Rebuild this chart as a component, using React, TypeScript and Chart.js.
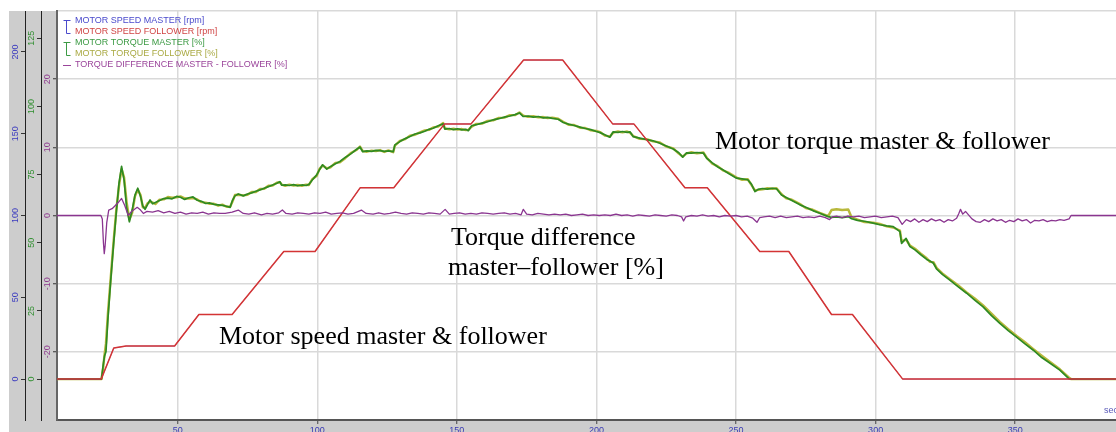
import React, { useEffect, useRef } from 'react';
import { Chart, registerables } from 'chart.js';

Chart.register(...registerables);

// ---------- data (time in seconds) ----------
const X_MIN = 6.77;
const X_MAX = 386.1;
const X_TICKS = [50, 100, 150, 200, 250, 300, 350];
const SPEED_TICKS = [0, 50, 100, 150, 200];
const TORQUE_TICKS = [0, 25, 50, 75, 100, 125];
const DIFF_TICKS = [-30, -20, -10, 0, 10, 20, 30];

const SPEED_TIME = [6, 22.6, 27.1, 31.5, 48.9, 57.6, 69.5, 88, 99.2, 115.4, 127.4, 145.6, 155.1, 173.9, 187.9, 205.8, 213.4, 231.7, 239.7, 258.5, 268.9, 284.2, 291.7, 309.7, 387];
const SPEED_MASTER = [0, 0, 19, 20.2, 20.2, 39.5, 39.5, 78, 78, 117, 117, 156, 156, 195, 195, 156, 156, 117, 117, 78, 78, 39.5, 39.5, 0, 0];
const SPEED_FOLLOWER = [0, 0, 19, 20.2, 20.2, 39.5, 39.5, 78, 78, 117, 117, 156, 156, 195, 195, 156, 156, 117, 117, 78, 78, 39.5, 39.5, 0, 0];

const TORQUE_TIME = [
  6, 22.7, 23.3, 23.8, 24.3, 25, 26, 27, 28, 29,
  29.9, 30.8, 31.7, 32.7, 33.7, 34.7, 35.7, 36.7, 37.5, 38.3,
  39.2, 40.1, 41, 42, 43.5, 45, 46.5, 48, 49.6, 51,
  52.5, 54, 55.5, 57, 58.5, 60, 61.5, 63, 64.5, 66,
  67.5, 68.8, 69.6, 70.5, 71.7, 73.5, 75, 76.5, 78, 79.5,
  81, 82.5, 84, 85.5, 86.6, 87.3, 88.5, 90, 91.5, 93,
  94.5, 96, 97, 98.2, 99.8, 100.8, 101.9, 103.4, 104.8, 106.5,
  108.1, 110, 112, 114, 115.3, 116.3, 117.8, 119.5, 121, 122.5,
  124, 125.5, 127.2, 127.8, 129.6, 131.5, 133.2, 135, 136.8, 138.5,
  140, 141.5, 143.3, 145.1, 145.7, 147.3, 148.8, 150.3, 151.8, 153.2,
  154.1, 155.3, 157, 159, 161, 163, 165, 167, 169, 170.8,
  172.4, 173.8, 175.5, 177.4, 179.2, 181, 182.5, 184.2, 186.3, 188.1,
  190, 192, 194.1, 196, 198, 200, 201.3, 203, 204.8, 206,
  207.7, 209.3, 211, 212, 213.2, 215.5, 218, 220.3, 222.7, 225,
  227.5, 229.5, 230.9, 232.3, 234, 236, 238.3, 239.5, 241.5, 243.5,
  245.4, 247.5, 250.2, 252.2, 254.2, 255.5, 256.8, 257.9, 259.5, 261.2,
  263, 264.5, 266.3, 268, 270, 272.9, 275, 277.5, 280, 283,
  284.2, 286, 288, 290.2, 291.4, 293.5, 296, 299.1, 301.5, 304,
  306.3, 308.7, 309.3, 310.9, 312.3, 314.1, 316.2, 318.3, 319.5, 320.7,
  321.9, 324, 326.6, 329.5, 332.6, 335.5, 338.5, 341.5, 344.5, 347.5,
  350.5, 353.5, 356.5, 359.5, 362.5, 366, 369.3, 370, 387,
];
const TORQUE_MASTER = [
  0, 0, 5, 8.5, 10, 22, 36, 49, 61, 72,
  78, 73, 63, 57.7, 62, 67.5, 70, 67, 63.5, 62.3,
  64, 65.7, 64.3, 64.8, 65.5, 66.2, 66.4, 66.1, 67, 66.7,
  65.9, 66.5, 66.8, 65.6, 65.2, 64.4, 64.6, 64.1, 63.9, 63.7,
  63.4, 63, 65.5, 67.2, 67.9, 67.2, 67.9, 68.3, 68.9, 69.4,
  70, 70.6, 71.2, 71.8, 72.4, 71.1, 71.2, 71, 71.3, 70.9,
  71.2, 71, 71.4, 73, 74.9, 76.8, 78.6, 77, 78, 79,
  79.8, 81.3, 82.6, 84.2, 85.1, 83.4, 83.7, 83.5, 83.9, 83.8,
  83.5, 83.7, 83.4, 85.9, 87.1, 88.2, 89, 89.9, 90.3, 90.9,
  91.6, 92, 92.9, 93.6, 91.7, 91.9, 91.5, 91.8, 91.4, 91.6,
  91.1, 92.9, 93.3, 93.9, 94.4, 95.1, 95.5, 96.1, 96.5, 97,
  97.6, 96.3, 96.5, 96.1, 96.3, 95.8, 96, 95.6, 95.3, 94.1,
  93.5, 93, 92.4, 91.9, 91.5, 90.8, 90.4, 89.6, 88.7, 90.7,
  90.5, 90.8, 90.5, 90.7, 88.9, 88.4, 87.8, 87.4, 86.5, 85.5,
  84.4, 83, 81.4, 83, 82.9, 83.1, 82.9, 81, 79.3, 77.8,
  76.7, 75.3, 73.7, 73.4, 73.1, 71.5, 68.8, 69.6, 69.9, 69.7,
  70, 69.8, 67.5, 66.6, 65.5, 63.9, 63, 61.8, 60.8, 59.6,
  59.3, 59.5, 59.2, 59.6, 58.8, 58.2, 57.9, 57.2, 56.6, 56.2,
  55.9, 54.1, 49.8, 51.6, 48.6, 47.4, 45.6, 43.9, 43.3, 42.5,
  40.3, 38.3, 36.3, 33.9, 31.5, 29, 26.5, 23.3, 20.4, 17.8,
  15.4, 12.9, 10.6, 7.9, 5.8, 3.3, 0.1, 0, 0,
];
const TORQUE_FOLLOWER = [
  0, 0, 4, 9, 13, 24, 37, 50, 62, 71,
  77, 74, 65, 58.5, 61, 67, 69.5, 67.5, 63, 62.8,
  64.5, 65, 64.8, 64.2, 65.8, 65.9, 66.8, 66.5, 66.7, 67,
  66.3, 66.2, 66.4, 65.9, 64.9, 64.7, 64.3, 64.3, 63.6, 64,
  63.2, 63.2, 65, 67.5, 67.6, 67.4, 67.6, 68.6, 68.6, 69.7,
  69.8, 70.9, 71, 72, 72.2, 71.3, 70.9, 71.3, 71, 71.2,
  70.9, 71.3, 71.2, 73.3, 74.6, 77.1, 78.3, 77.3, 77.7, 79.3,
  79.5, 81, 82.9, 84, 85.3, 83.6, 83.4, 83.8, 83.6, 84,
  83.3, 83.9, 83.2, 85.6, 87.4, 88, 89.3, 89.6, 90.5, 91.2,
  91.4, 92.3, 92.6, 93.9, 92, 91.6, 91.8, 91.5, 91.7, 91.3,
  91.4, 92.6, 93.6, 93.7, 94.7, 94.9, 95.8, 95.9, 96.8, 96.8,
  97.8, 96.6, 96.2, 96.4, 96, 96.1, 95.7, 95.9, 95.5, 94.4,
  93.3, 93.2, 92.2, 92.1, 91.2, 91, 90.6, 89.3, 89, 90.4,
  90.8, 90.5, 90.8, 90.4, 89.1, 88.1, 88, 87.2, 86.8, 85.3,
  84.6, 82.7, 81.6, 82.8, 83.2, 82.8, 83.1, 81.2, 79, 78,
  76.5, 75.6, 73.9, 73.1, 73.3, 71.2, 69.1, 69.4, 69.6, 70,
  69.8, 70, 67.8, 66.3, 65.8, 64.2, 62.7, 62.1, 61, 59.8,
  62, 62.3, 62, 62.2, 59.3, 58.5, 57.6, 57.4, 56.9, 56,
  55.6, 54.5, 50.5, 51.2, 49, 47.8, 46, 44.3, 43, 42.9,
  40.7, 38.7, 36.6, 34.4, 31.8, 29.6, 27, 24, 21, 18.3,
  15.8, 13.5, 11, 8.6, 6.3, 3.6, 0.5, 0, 0,
];

const DIFF_TIME = [
  6, 22.5, 23, 23.4, 23.7, 24, 24.6, 25.3, 26.5, 27.5,
  28.7, 29.9, 31, 32.3, 33.5, 35.5, 36.7, 37.7, 39, 41,
  43, 45, 47, 49, 51, 53, 55, 57, 59, 61,
  63, 65, 67, 69.5, 71.7, 73.5, 75.5, 77.5, 80, 82,
  84, 86.2, 87.5, 88.8, 91, 93, 95, 97, 99, 101,
  103, 105, 107, 109, 111, 113, 115.8, 117.5, 120, 122,
  124, 126, 128, 130, 132, 134, 136, 138, 140, 142,
  144, 145.8, 147.3, 149, 151, 153, 155, 157, 159, 161,
  163, 165, 167, 169, 171, 173, 173.8, 175, 177, 179,
  181, 183, 185, 187, 189, 191, 193, 195, 197, 199,
  201, 203, 205, 207, 209, 211, 213, 215, 217, 219,
  221, 223, 225, 227, 229, 230.5, 231.2, 232, 234, 236,
  238, 240, 242, 244, 246, 248, 250, 252, 254, 256,
  257.5, 258.5, 260, 262, 264, 266, 268, 270, 272, 274,
  276, 278, 280, 282, 283.5, 284.5, 286, 288, 290, 292,
  294, 296, 298, 300, 302, 304, 306, 308, 309.5, 311,
  312.5, 314, 315.5, 317, 318.5, 320, 321.5, 323, 324.5, 326,
  327.5, 329, 329.8, 330.4, 331.2, 332.2, 334.5, 336, 337.5, 339,
  340.5, 342, 343.5, 345, 346.5, 348, 349.5, 351, 352.5, 354,
  355.5, 357, 358.5, 360, 361.5, 363, 364.5, 366, 367.5, 369.3,
  370, 387,
];
const DIFF_VALUES = [
  0, 0, -0.5, -4, -5.6, -4.5, -1, 0.8, 1.0, 1.4,
  1.9, 2.5, 1.5, 0, 0.6, 1.2, 0.8, 0.3, 0.6, 0.5,
  0.7, 0.4, 0.6, 0.3, 0.5, 0.2, 0.4, 0.3, 0.5, 0.2,
  0.4, 0.3, 0.3, 0.5, 0.8, 0.3, 0.2, 0.4, 0.1, 0.3,
  0.2, 0.4, 0.8, 0.3, 0.2, 0.4, 0.3, 0.2, 0.4, 0.3,
  0.5, 0.2, 0.3, 0.4, 0.2, 0.3, 0.8, 0.3, 0.2, 0.4,
  0.2, 0.3, 0.5, 0.3, 0.2, 0.4, 0.3, 0.2, 0.4, 0.3,
  0.2, 0.9, 0.2, 0.3, 0.4, 0.2, 0.3, 0.2, 0.4, 0.3,
  0.2, 0.3, 0.4, 0.2, 0.3, 0.1, 0.9, 0.2, 0.1, 0.3,
  0.2, 0.1, 0.2, 0.1, 0.2, 0, 0.1, 0.2, 0, 0.1,
  0, 0.1, 0, 0.2, 0, 0.1, -0.1, 0.1, 0, -0.1,
  0.1, 0, -0.1, 0.1, 0, -0.2, -0.8, -0.2, 0, -0.1,
  0.1, -0.1, 0, -0.2, 0, -0.1, 0, -0.2, -0.1, -0.4,
  -1.0, -0.3, -0.2, -0.1, -0.3, -0.1, -0.3, -0.2, -0.1, -0.3,
  -0.2, -0.3, -0.1, -0.3, -0.6, -0.2, -0.1, -0.3, -0.1, -0.2,
  -0.1, -0.3, -0.2, -0.1, -0.3, -0.2, -0.1, -0.3, -1.3, -0.6,
  -0.9, -0.5, -1.0, -0.6, -0.9, -0.5, -0.8, -0.6, -1.0, -0.6,
  -0.8, -0.4, 0.3, 0.9, 0.2, 0.6, -0.5, -0.9, -1.0, -0.6,
  -0.9, -0.5, -0.8, -0.6, -1.0, -0.7, -0.9, -0.5, -0.8, -0.6,
  -1.1, -0.7, -0.8, -0.6, -0.9, -0.7, -0.8, -0.6, -0.7, -0.5,
  0, 0,
];

const LEGEND_LABELS = [
  'MOTOR SPEED MASTER [rpm]',
  'MOTOR SPEED FOLLOWER [rpm]',
  'MOTOR TORQUE MASTER [%]',
  'MOTOR TORQUE FOLLOWER [%]',
  'TORQUE DIFFERENCE MASTER - FOLLOWER [%]',
];

// ---------- styles ----------
const SANS = '"Liberation Sans", Arial, sans-serif';
const SERIF = '"Liberation Serif", "Times New Roman", serif';
const PANEL_GREY = '#cdcdcd';
const GRID = '#d9d9d9';
const C_SPEED_M = '#4a4ad0';
const C_SPEED_F = '#d43434';
const C_TORQ_M = '#2e8a22';
const C_TORQ_F = '#b8b83c';
const C_DIFF = '#8a3590';
const LEGEND_COLORS = ['#4a4acc', '#d04444', '#3c9a44', '#aaaa44', '#9a449a'];

const pts = (xs: number[], ys: number[]) => xs.map((x, i) => ({ x, y: ys[i] }));

const decorPlugin = {
  id: 'decor',
  beforeDraw(chart: any) {
    const { ctx, width, height, chartArea: a } = chart;
    ctx.save();
    ctx.fillStyle = '#ffffff';
    ctx.fillRect(0, 0, width, height);
    ctx.fillStyle = PANEL_GREY;
    ctx.fillRect(9, 11, width - 9, height - 11);
    ctx.fillStyle = '#ffffff';
    ctx.fillRect(a.left, a.top, a.right - a.left, a.bottom - a.top);
    ctx.restore();
  },
  afterDraw(chart: any) {
    const { ctx } = chart;
    ctx.save();
    // rotated y-axis tick labels
    const defs: [string, number, string][] = [
      ['ySpeed', 15.5, '#3a3abf'],
      ['yTorque', 31.6, '#2e8e2e'],
      ['yDiff', 48, '#8e3a8e'],
    ];
    ctx.font = `9px ${SANS}`;
    ctx.textAlign = 'center';
    ctx.textBaseline = 'middle';
    for (const [id, x, color] of defs) {
      const s = chart.scales[id];
      ctx.fillStyle = color;
      for (const tk of s.ticks) {
        if (tk.value <= s.min || tk.value >= s.max) continue;
        const y = s.getPixelForValue(tk.value);
        ctx.save();
        ctx.translate(x, y);
        ctx.rotate(-Math.PI / 2);
        ctx.fillText(String(tk.value), 0, 0);
        ctx.restore();
      }
    }

    // legend
    const lx = 75;
    const ly = [21, 32, 43, 54, 65];
    ctx.textAlign = 'left';
    LEGEND_LABELS.forEach((t, i) => {
      ctx.fillStyle = LEGEND_COLORS[i];
      ctx.fillText(t, lx, ly[i]);
    });
    ctx.lineWidth = 1;
    const bracket = (y1: number, y2: number, color: string) => {
      ctx.strokeStyle = color;
      ctx.beginPath();
      ctx.moveTo(63.5, y1 + 0.5);
      ctx.lineTo(70.5, y1 + 0.5);
      ctx.moveTo(66.5, y1 + 0.5);
      ctx.lineTo(66.5, y2 + 0.5);
      ctx.lineTo(70.5, y2 + 0.5);
      ctx.stroke();
    };
    bracket(ly[0] - 1, ly[1] + 1, '#4a4acc');
    bracket(ly[2] - 1, ly[3] + 1, '#3c9a44');
    ctx.strokeStyle = '#9a449a';
    ctx.beginPath();
    ctx.moveTo(63, ly[4] + 0.5);
    ctx.lineTo(71, ly[4] + 0.5);
    ctx.stroke();

    // axis unit
    ctx.fillStyle = '#5a5ab8';
    ctx.fillText('sec', 1104, 411);

    // annotations
    ctx.fillStyle = '#000000';
    ctx.textBaseline = 'alphabetic';
    ctx.font = `26px ${SERIF}`;
    ctx.fillText('Motor torque master & follower', 715, 149);
    ctx.fillText('Torque difference', 451, 245);
    ctx.fillText('master\u2013follower [%]', 448, 275);
    ctx.fillText('Motor speed master & follower', 219, 344);
    ctx.restore();
  },
};

export default function App() {
  const ref = useRef<HTMLCanvasElement>(null);

  useEffect(() => {
    const canvas = ref.current;
    if (!canvas) return;
    const common = { pointRadius: 0, tension: 0, fill: false, borderJoinStyle: 'round' as const };
    const chart = new Chart(canvas, {
      type: 'line',
      data: {
        datasets: [
          { ...common, label: LEGEND_LABELS[4], data: pts(DIFF_TIME, DIFF_VALUES), yAxisID: 'yDiff', borderColor: C_DIFF, borderWidth: 1.3, order: 0 },
          { ...common, label: LEGEND_LABELS[1], data: pts(SPEED_TIME, SPEED_FOLLOWER), yAxisID: 'ySpeed', borderColor: C_SPEED_F, borderWidth: 1.5, order: 1 },
          { ...common, label: LEGEND_LABELS[0], data: pts(SPEED_TIME, SPEED_MASTER), yAxisID: 'ySpeed', borderColor: C_SPEED_M, borderWidth: 0.6, order: 2 },
          { ...common, label: LEGEND_LABELS[2], data: pts(TORQUE_TIME, TORQUE_MASTER), yAxisID: 'yTorque', borderColor: C_TORQ_M, borderWidth: 1.7, order: 3 },
          { ...common, label: LEGEND_LABELS[3], data: pts(TORQUE_TIME, TORQUE_FOLLOWER), yAxisID: 'yTorque', borderColor: C_TORQ_F, borderWidth: 2.4, order: 4 },
        ],
      },
      options: {
        animation: false,
        responsive: false,
        devicePixelRatio: 1,
        events: [],
        layout: { padding: { left: 9, top: 11, right: 0, bottom: 0 } },
        plugins: { legend: { display: false }, tooltip: { enabled: false }, title: { display: false } },
        scales: {
          x: {
            type: 'linear',
            position: 'bottom',
            min: X_MIN,
            max: X_MAX,
            afterBuildTicks: (s: any) => { s.ticks = X_TICKS.map((v) => ({ value: v })); },
            afterFit: (s: any) => { s.height = 12; },
            grid: { color: GRID, lineWidth: 1.5, drawTicks: true, tickLength: 4, tickColor: '#444', tickWidth: 1 },
            border: { display: true, color: '#555', width: 2 },
            ticks: { color: '#3a3ab4', font: { size: 9, family: SANS }, padding: 1, maxRotation: 0, autoSkip: false },
          },
          ySpeed: {
            type: 'linear',
            position: 'left',
            weight: 2,
            min: -25,
            max: 225,
            afterBuildTicks: (s: any) => { s.ticks = SPEED_TICKS.map((v) => ({ value: v })); },
            afterFit: (s: any) => { s.width = 16; },
            grid: { drawOnChartArea: false, drawTicks: true, tickLength: 4, tickColor: '#333', tickWidth: 1 },
            border: { display: true, color: '#222', width: 1 },
            ticks: { display: false },
          },
          yTorque: {
            type: 'linear',
            position: 'left',
            weight: 1,
            min: -15,
            max: 135,
            afterBuildTicks: (s: any) => { s.ticks = TORQUE_TICKS.map((v) => ({ value: v })); },
            afterFit: (s: any) => { s.width = 16; },
            grid: { drawOnChartArea: false, drawTicks: true, tickLength: 4, tickColor: '#333', tickWidth: 1 },
            border: { display: true, color: '#222', width: 1 },
            ticks: { display: false },
          },
          yDiff: {
            type: 'linear',
            position: 'left',
            weight: 0,
            min: -30,
            max: 30,
            afterBuildTicks: (s: any) => { s.ticks = DIFF_TICKS.map((v) => ({ value: v })); },
            afterFit: (s: any) => { s.width = 16; },
            grid: {
              color: GRID,
              lineWidth: 1.5,
              drawTicks: true,
              tickLength: 4,
              tickWidth: 1,
              tickColor: (c: any) => (c.tick && Math.abs(c.tick.value) === 30 ? 'rgba(0,0,0,0)' : '#333'),
            },
            border: { display: true, color: '#666', width: 2 },
            ticks: { display: false },
          },
        },
      } as any,
      plugins: [decorPlugin],
    });
    return () => chart.destroy();
  }, []);

  return (
    <div style={{ position: 'absolute', left: 0, top: 0, width: 1116, height: 432 }}>
      <canvas ref={ref} width={1116} height={432} style={{ display: 'block', width: 1116, height: 432 }} />
    </div>
  );
}
